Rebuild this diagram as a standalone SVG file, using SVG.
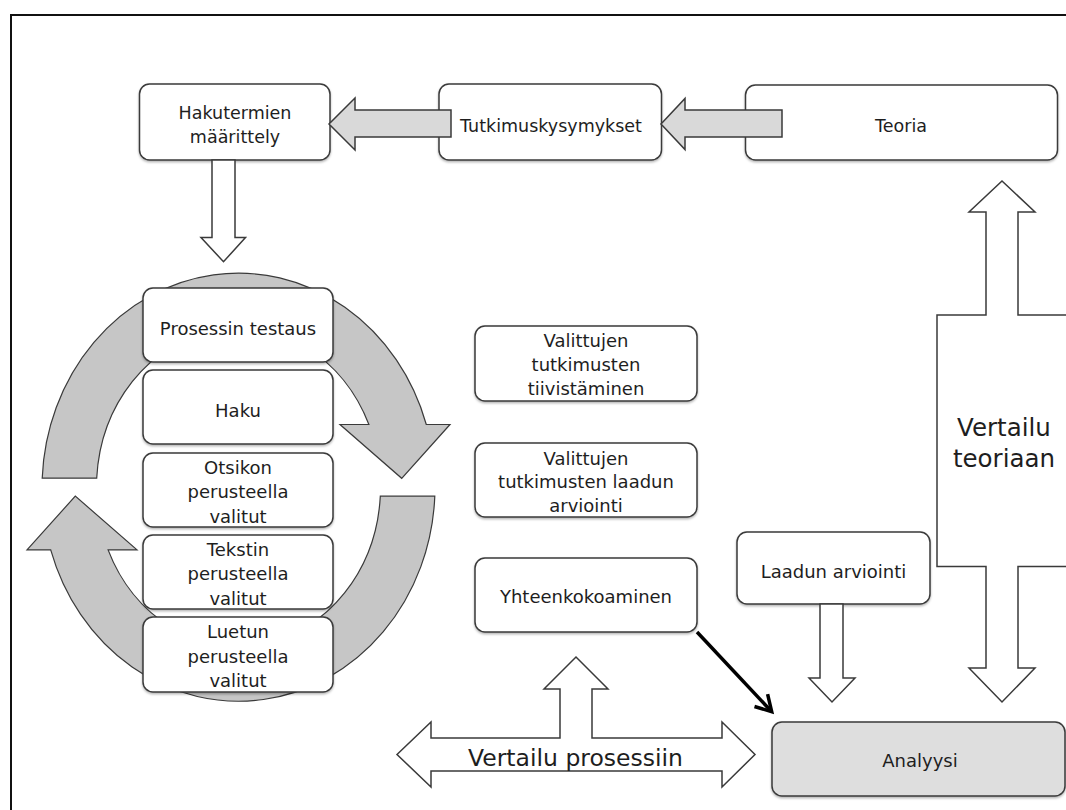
<svg xmlns="http://www.w3.org/2000/svg" width="1066" height="810" viewBox="0 0 1066 810">
<defs>
<filter id="sh" x="-10%" y="-10%" width="120%" height="130%">
<feDropShadow dx="0" dy="1.5" stdDeviation="1.2" flood-color="#000" flood-opacity="0.3"/>
</filter>
<style>
.box{fill:#fff;stroke:#3a3a3a;stroke-width:1.5;filter:url(#sh)}
.gbox{fill:#dedede;stroke:#3a3a3a;stroke-width:1.5;filter:url(#sh)}
.t{font-family:"DejaVu Sans",Verdana,sans-serif;font-size:18px;fill:#1e1e1e;text-anchor:middle}
.tt{font-size:17.5px}
.big{font-size:24px}
.ring{fill:#c6c6c6;stroke:#3a3a3a;stroke-width:1.2;stroke-linejoin:miter}
.wa{fill:#fff;stroke:#3a3a3a;stroke-width:1.5;stroke-linejoin:miter}
.ga{fill:#d9d9d9;stroke:#3a3a3a;stroke-width:1.5;stroke-linejoin:miter}
</style>
</defs>
<rect x="11" y="15" width="1075" height="820" fill="#fff" stroke="#111" stroke-width="2"/>

<g id="ring">
<path class="ring" d="M42.2,478.2 A196.5 214.5 0 0 1 426.3,424.5 L450,424.5 L401.7,478.3 L340,424.5 L368.9,424.5 A142 159.5 0 0 0 96.7,478.2 Z"/>
<path class="ring" d="M434.8,496.2 A196.5 214.5 0 0 1 50.7,549.9 L27,549.9 L75.3,496.1 L137,549.9 L108.1,549.9 A142 159.5 0 0 0 380.3,496.2 Z"/>
</g>

<g id="n-hakutermien"><rect class="box" x="139.5" y="84" width="190.5" height="76" rx="10"/>
<text class="t tt" x="235" y="119">Hakutermien</text><text class="t tt" x="235" y="143">määrittely</text></g>
<g id="n-tutkimuskysymykset"><rect class="box" x="439" y="84" width="222.5" height="76" rx="10"/>
<text class="t tt" x="551" y="131.5">Tutkimuskysymykset</text></g>
<g id="n-teoria"><rect class="box" x="745.5" y="85" width="312" height="75" rx="10"/>
<text class="t tt" x="901" y="131.5">Teoria</text></g>

<g id="n-prosessin"><rect class="box" x="143" y="288" width="190" height="74" rx="10"/>
<text class="t" x="238" y="335">Prosessin testaus</text></g>
<g id="n-haku"><rect class="box" x="143" y="370" width="190" height="74" rx="10"/>
<text class="t" x="238" y="417">Haku</text></g>
<g id="n-otsikon"><rect class="box" x="143" y="453" width="190" height="74" rx="10"/>
<text class="t" x="238" y="474">Otsikon</text><text class="t" x="238" y="498.3">perusteella</text><text class="t" x="238" y="523">valitut</text></g>
<g id="n-tekstin"><rect class="box" x="143" y="535" width="190" height="74" rx="10"/>
<text class="t" x="238" y="556">Tekstin</text><text class="t" x="238" y="580.3">perusteella</text><text class="t" x="238" y="605">valitut</text></g>
<g id="n-luetun"><rect class="box" x="143" y="617" width="190" height="75" rx="10"/>
<text class="t" x="238" y="638.3">Luetun</text><text class="t" x="238" y="662.7">perusteella</text><text class="t" x="238" y="687">valitut</text></g>

<g id="n-tiivistaminen"><rect class="box" x="475" y="326" width="222" height="75" rx="10"/>
<text class="t" x="586" y="346.7">Valittujen</text><text class="t" x="586" y="370.7">tutkimusten</text><text class="t" x="586" y="395">tiivistäminen</text></g>
<g id="n-laadun-arviointi-valittujen"><rect class="box" x="475" y="443" width="222" height="74" rx="10"/>
<text class="t" x="586" y="465">Valittujen</text><text class="t" x="586" y="488.3">tutkimusten laadun</text><text class="t" x="586" y="512.3">arviointi</text></g>
<g id="n-yhteenkokoaminen"><rect class="box" x="475" y="558" width="222" height="74" rx="10"/>
<text class="t" x="586" y="603.3">Yhteenkokoaminen</text></g>

<g id="n-laadun"><rect class="box" x="737" y="532" width="193" height="72" rx="10"/>
<text class="t" x="833.5" y="577.5">Laadun arviointi</text></g>
<g id="n-analyysi"><rect class="gbox" x="772" y="722" width="293" height="74" rx="10"/>
<text class="t" x="920" y="767">Analyysi</text></g>

<g id="connectors">
<polygon class="ga" points="451,110 355,110 355,98 329,124 355,150 355,137 451,137"/>
<polygon class="ga" points="782,110 685,110 685,98.5 661,124 685,149.5 685,137 782,137"/>
<polygon class="wa" points="212,160 235,160 235,237.6 245.5,237.6 223.5,261.7 201,237.6 212,237.6"/>
<polygon class="wa" points="1002,181 1035,212 1018,212 1018,315 1070,315 1070,566.5 1018,566.5 1018,668 1035,668 1002,702 969,668 986,668 986,566.5 937,566.5 937,315 986,315 986,212 969,212"/>
<text class="t big" x="1004" y="436" style="font-size:24.5px">Vertailu</text>
<text class="t big" x="1004" y="466.6" style="font-size:24.5px">teoriaan</text>
<polygon class="wa" points="820,604 843,604 843,678 855,678 832,702 809,678 820,678"/>
<polygon class="wa" points="397,754.5 431,722 431,738 560,738 560,689 544,689 576,657 608,689 592,689 592,738 722,738 722,722 755,754.5 722,787 722,771 431,771 431,787"/>
<text class="t big" x="575.5" y="766" style="font-size:23.5px">Vertailu prosessiin</text>
<line x1="697" y1="632" x2="771" y2="711" stroke="#000" stroke-width="3.5"/>
<polyline points="767.6,694.2 771.7,711.7 754.5,706.5" fill="none" stroke="#000" stroke-width="3.5" stroke-linejoin="miter"/>
</g>
</svg>
